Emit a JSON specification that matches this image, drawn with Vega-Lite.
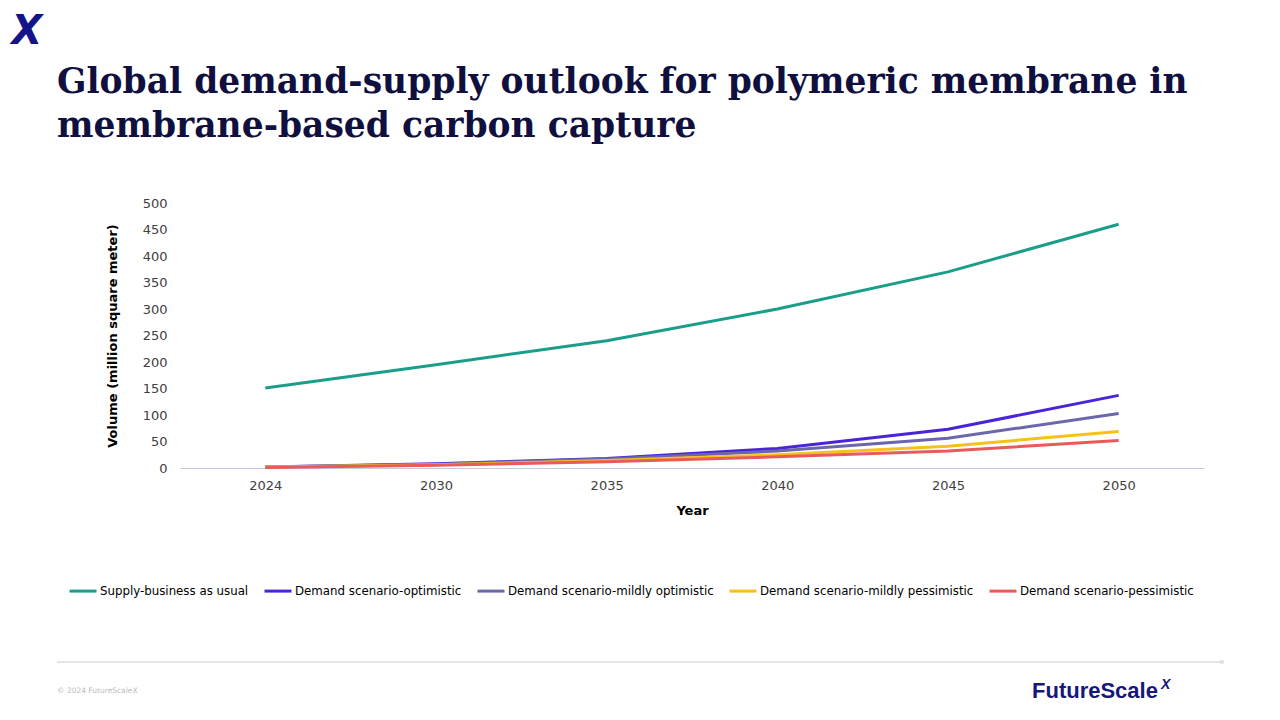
{
  "$schema": "https://vega.github.io/schema/vega-lite/v6.json",
  "width": 1024,
  "height": 265,
  "autosize": {"type": "none"},
  "padding": {"left": 180, "top": 203, "right": 76, "bottom": 252},
  "background": "#ffffff",
  "config": {
    "view": {"stroke": null},
    "font": "DejaVu Sans"
  },
  "datasets": {
    "series": [
      {"year": "2024", "series": "Supply-business as usual", "value": 151},
      {"year": "2030", "series": "Supply-business as usual", "value": 195},
      {"year": "2035", "series": "Supply-business as usual", "value": 240},
      {"year": "2040", "series": "Supply-business as usual", "value": 300},
      {"year": "2045", "series": "Supply-business as usual", "value": 370},
      {"year": "2050", "series": "Supply-business as usual", "value": 460},
      {"year": "2024", "series": "Demand scenario-optimistic", "value": 2},
      {"year": "2030", "series": "Demand scenario-optimistic", "value": 8},
      {"year": "2035", "series": "Demand scenario-optimistic", "value": 18},
      {"year": "2040", "series": "Demand scenario-optimistic", "value": 37},
      {"year": "2045", "series": "Demand scenario-optimistic", "value": 73},
      {"year": "2050", "series": "Demand scenario-optimistic", "value": 137},
      {"year": "2024", "series": "Demand scenario-mildly optimistic", "value": 2},
      {"year": "2030", "series": "Demand scenario-mildly optimistic", "value": 7},
      {"year": "2035", "series": "Demand scenario-mildly optimistic", "value": 17},
      {"year": "2040", "series": "Demand scenario-mildly optimistic", "value": 32},
      {"year": "2045", "series": "Demand scenario-mildly optimistic", "value": 56},
      {"year": "2050", "series": "Demand scenario-mildly optimistic", "value": 103},
      {"year": "2024", "series": "Demand scenario-mildly pessimistic", "value": 2},
      {"year": "2030", "series": "Demand scenario-mildly pessimistic", "value": 6},
      {"year": "2035", "series": "Demand scenario-mildly pessimistic", "value": 14},
      {"year": "2040", "series": "Demand scenario-mildly pessimistic", "value": 25},
      {"year": "2045", "series": "Demand scenario-mildly pessimistic", "value": 41},
      {"year": "2050", "series": "Demand scenario-mildly pessimistic", "value": 69},
      {"year": "2024", "series": "Demand scenario-pessimistic", "value": 1},
      {"year": "2030", "series": "Demand scenario-pessimistic", "value": 5},
      {"year": "2035", "series": "Demand scenario-pessimistic", "value": 12},
      {"year": "2040", "series": "Demand scenario-pessimistic", "value": 21},
      {"year": "2045", "series": "Demand scenario-pessimistic", "value": 32},
      {"year": "2050", "series": "Demand scenario-pessimistic", "value": 52}
    ],
    "one": [{"a": 1}]
  },
  "layer": [
    {
      "data": {"name": "series"},
      "mark": {"type": "line", "strokeWidth": 3, "interpolate": "linear"},
      "encoding": {
        "x": {
          "field": "year",
          "type": "ordinal",
          "scale": {"type": "point", "padding": 0.5},
          "axis": {
            "title": "Year",
            "titleFont": "DejaVu Sans",
            "titleFontSize": 13,
            "titleFontWeight": "bold",
            "titleColor": "#000000",
            "titlePadding": 12,
            "labelAngle": 0,
            "labelFont": "DejaVu Sans",
            "labelFontSize": 13,
            "labelColor": "#404040",
            "labelPadding": 11,
            "ticks": false,
            "domainColor": "#c8c8d8",
            "domainWidth": 1,
            "grid": false
          }
        },
        "y": {
          "field": "value",
          "type": "quantitative",
          "scale": {"domain": [0, 500], "nice": false},
          "axis": {
            "title": "Volume (million square meter)",
            "titleFont": "DejaVu Sans",
            "titleFontSize": 13,
            "titleFontWeight": "bold",
            "titleColor": "#000000",
            "titlePadding": 23,
            "values": [0, 50, 100, 150, 200, 250, 300, 350, 400, 450, 500],
            "labelFont": "DejaVu Sans",
            "labelFontSize": 13,
            "labelColor": "#404040",
            "labelPadding": 13,
            "ticks": false,
            "domain": false,
            "grid": false
          }
        },
        "color": {
          "field": "series",
          "type": "nominal",
          "sort": ["Supply-business as usual", "Demand scenario-optimistic", "Demand scenario-mildly optimistic", "Demand scenario-mildly pessimistic", "Demand scenario-pessimistic"],
          "scale": {
            "domain": ["Supply-business as usual", "Demand scenario-optimistic", "Demand scenario-mildly optimistic", "Demand scenario-mildly pessimistic", "Demand scenario-pessimistic"],
            "range": ["#1a9e8a", "#4a24d8", "#6c66aa", "#f6c21a", "#e85b5b"]
          },
          "legend": {
            "title": null,
            "orient": "none",
            "legendX": -112,
            "legendY": 373,
            "direction": "horizontal",
            "symbolType": "stroke",
            "symbolSize": 729,
            "symbolStrokeWidth": 3,
            "labelFont": "DejaVu Sans",
            "labelFontSize": 11.8,
            "labelColor": "#000000",
            "labelOffset": 2,
            "columnPadding": 9,
            "labelLimit": 400
          }
        }
      }
    },
    {
      "data": {"name": "one"},
      "mark": {"type": "text", "text": ["Global demand-supply outlook for polymeric membrane in", "membrane-based carbon capture"], "font": "DejaVu Serif", "fontSize": 34.5, "fontWeight": "bold", "color": "#10103f", "align": "left", "baseline": "alphabetic", "lineHeight": 44},
      "encoding": {"x": {"value": -123}, "y": {"value": -110}}
    },
    {
      "data": {"name": "one"},
      "mark": {"type": "text", "text": "X", "font": "DejaVu Sans", "fontSize": 40, "fontWeight": "bold", "fontStyle": "italic", "color": "#14148a", "align": "center", "baseline": "middle"},
      "encoding": {"x": {"value": -153}, "y": {"value": -171}}
    },
    {
      "data": {"name": "one"},
      "mark": {"type": "rule", "color": "#dddddd", "strokeWidth": 1.5},
      "encoding": {"x": {"value": -123}, "x2": {"value": 1042}, "y": {"value": 459}}
    },
    {
      "data": {"name": "one"},
      "mark": {"type": "point", "filled": true, "color": "#dddddd", "size": 20},
      "encoding": {"x": {"value": 1042}, "y": {"value": 459}}
    },
    {
      "data": {"name": "one"},
      "mark": {"type": "text", "text": "© 2024 FutureScaleX", "font": "DejaVu Sans", "fontSize": 7.5, "color": "#bbbbbb", "align": "left", "baseline": "middle"},
      "encoding": {"x": {"value": -123}, "y": {"value": 488}}
    },
    {
      "data": {"name": "one"},
      "mark": {"type": "text", "text": "FutureScale", "font": "Liberation Sans", "fontSize": 22, "fontWeight": "bold", "color": "#17177a", "align": "left", "baseline": "middle", "letterSpacing": -0.5},
      "encoding": {"x": {"value": 852}, "y": {"value": 488}}
    },
    {
      "data": {"name": "one"},
      "mark": {"type": "text", "text": "X", "font": "Liberation Sans", "fontSize": 14, "fontStyle": "italic", "fontWeight": "bold", "color": "#17177a", "align": "left", "baseline": "middle"},
      "encoding": {"x": {"value": 981}, "y": {"value": 482}}
    }
  ]
}
